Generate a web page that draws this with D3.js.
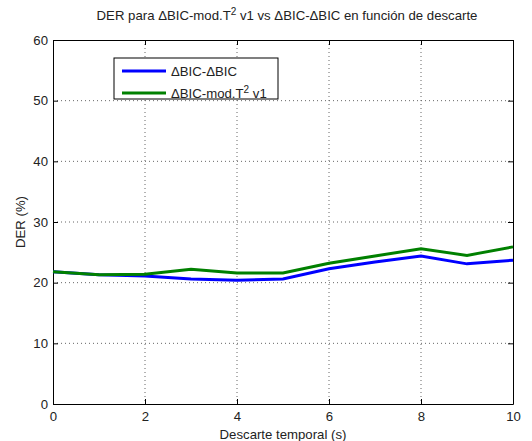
<!DOCTYPE html>
<html><head><meta charset="utf-8">
<script src="https://cdn.jsdelivr.net/npm/d3@7"></script>
<style>body{margin:0;background:#fff}svg text{font-family:"Liberation Sans",Arial,sans-serif}</style>
</head><body><svg id="c" width="532" height="441"></svg>
<script>
const xValues = [0,1,2,3,4,5,6,7,8,9,10];
const blueSeries = [21.8,21.3,21.1,20.6,20.4,20.6,22.3,23.4,24.4,23.1,23.7];
const greenSeries = [21.8,21.3,21.4,22.2,21.6,21.6,23.2,24.4,25.6,24.5,25.9];
const seriesNames = ["ΔBIC-ΔBIC","ΔBIC-mod.T² v1"];
const xTicks = [0,2,4,6,8,10];
const yTicks = [0,10,20,30,40,50,60];

const FS = 13.2;
const svg = d3.select("#c");
const L=53,R=513,T=40,B=404;
const x = d3.scaleLinear().domain([0,10]).range([L,R]);
const y = d3.scaleLinear().domain([0,60]).range([B,T]);

// grid
const g = svg.append("g");
g.selectAll(".gx").data(xTicks.slice(1,-1)).join("line")
 .attr("x1",d=>x(d)).attr("x2",d=>x(d)).attr("y1",T).attr("y2",B)
 .attr("stroke","#666").attr("stroke-width",1).attr("stroke-dasharray","1,3");
g.selectAll(".gy").data(yTicks.slice(1,-1)).join("line")
 .attr("x1",L).attr("x2",R).attr("y1",d=>y(d)).attr("y2",d=>y(d))
 .attr("stroke","#666").attr("stroke-width",1).attr("stroke-dasharray","1,3");

// axes
const ax = svg.append("g").attr("transform",`translate(0,${B})`)
 .call(d3.axisBottom(x).tickValues(xTicks).tickSizeInner(-5).tickSizeOuter(0).tickPadding(8));
const ay = svg.append("g").attr("transform",`translate(${L},0)`)
 .call(d3.axisLeft(y).tickValues(yTicks).tickSizeInner(-5).tickSizeOuter(0).tickPadding(5));
const ax2 = svg.append("g").attr("transform",`translate(0,${T})`)
 .call(d3.axisTop(x).tickValues(xTicks).tickSizeInner(-5).tickSizeOuter(0).tickFormat(""));
const ay2 = svg.append("g").attr("transform",`translate(${R},0)`)
 .call(d3.axisRight(y).tickValues(yTicks).tickSizeInner(-5).tickSizeOuter(0).tickFormat(""));
[ax,ay,ax2,ay2].forEach(a=>{
  a.selectAll("text").attr("font-size",FS).attr("fill","#222").style("font-family","Liberation Sans, Arial, sans-serif");
  a.select(".domain").attr("stroke","#000");
  a.selectAll(".tick line").attr("stroke","#000");
});

// lines
const line = d3.line().x((d,i)=>x(xValues[i])).y(d=>y(d));
svg.append("path").datum(blueSeries).attr("d",line).attr("fill","none")
 .attr("stroke","#0000ff").attr("stroke-width",3);
svg.append("path").datum(greenSeries).attr("d",line).attr("fill","none")
 .attr("stroke","#008000").attr("stroke-width",3);

// title
const title = svg.append("text").attr("x",(L+R)/2+4).attr("y",20).attr("text-anchor","middle")
 .attr("font-size",FS).attr("fill","#222");
title.append("tspan").text("DER para ΔBIC-mod.T");
title.append("tspan").attr("dy",-5).attr("font-size",10).text("2");
title.append("tspan").attr("dy",5).text(" v1 vs ΔBIC-ΔBIC en función de descarte");

// axis labels
svg.append("text").attr("x",(L+R)/2).attr("y",439).attr("text-anchor","middle")
 .attr("font-size",FS).attr("fill","#222").text("Descarte temporal (s)");
svg.append("text").attr("transform",`translate(25,${(T+B)/2}) rotate(-90)`).attr("text-anchor","middle")
 .attr("font-size",FS).attr("fill","#222").text("DER (%)");

// legend
const lg = svg.append("g");
lg.append("rect").attr("x",114).attr("y",58).attr("width",164).attr("height",41)
 .attr("fill","#fff").attr("stroke","#000").attr("stroke-width",1);
const colors=["#0000ff","#008000"];
[71,93].forEach((yy,i)=>{
  lg.append("line").attr("x1",122).attr("x2",166).attr("y1",yy).attr("y2",yy)
   .attr("stroke",colors[i]).attr("stroke-width",3);
});
lg.append("text").attr("x",171).attr("y",76).attr("font-size",FS).attr("fill","#222").text(seriesNames[0]);
const t2 = lg.append("text").attr("x",171).attr("y",98).attr("font-size",FS).attr("fill","#222");
t2.append("tspan").text("ΔBIC-mod.T");
t2.append("tspan").attr("dy",-5).attr("font-size",10).text("2");
t2.append("tspan").attr("dy",5).text(" v1");
</script></body></html>
